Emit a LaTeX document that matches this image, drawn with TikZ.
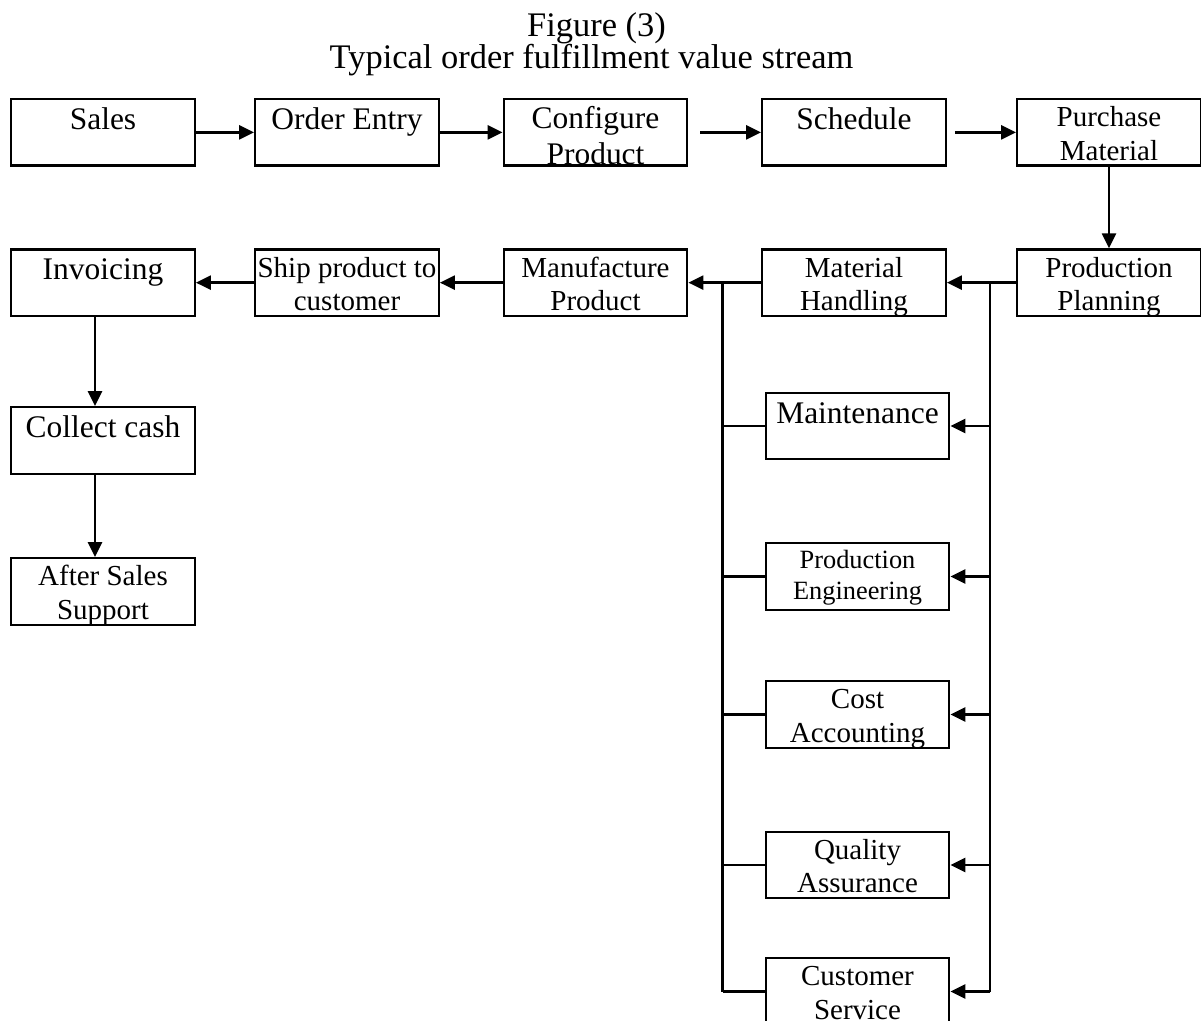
\documentclass[tikz,border=0pt]{standalone}
\usepackage{fontspec}
\setmainfont{Liberation Serif}
\usetikzlibrary{arrows.meta}

\begin{document}
\begin{tikzpicture}[line width=1.3pt,>={Triangle[length=0.3cm,width=0.28cm]},
  blk/.style={draw,inner sep=0pt,minimum width=3.67cm,minimum height=1.33cm,align=center},
  big/.style={blk,font=\fontsize{17.9}{20.5}\selectfont,text height=0.61cm,text depth=0.72cm},
  bigtwo/.style={blk,font=\fontsize{17.9}{20.5}\selectfont,text height=1.31cm,text depth=0.02cm},
  mid/.style={blk,font=\fontsize{16.5}{19}\selectfont,text height=1.22cm,text depth=0.11cm},
  sml/.style={blk,font=\fontsize{15}{17.6}\selectfont,text height=1.13cm,text depth=0.20cm},
  flow/.style={->,line width=1.5pt}]
\useasboundingbox (0,0) rectangle (24.02,-20.4);
% ---------- title ----------
\node[anchor=base,font=\fontsize{19.6}{23}\selectfont] (fig) at (11.93,-0.72) {Figure (3)};
\node[anchor=base,font=\fontsize{19.6}{23}\selectfont] (caption) at (11.83,-1.37) {Typical order fulfillment value stream};
% ---------- top row ----------
\node[big]    (sales)  at (2.06,-2.647)  {Sales};
\node[big]    (entry)  at (6.94,-2.647)  {Order Entry};
\node[bigtwo] (config) at (11.91,-2.647) {Configure\\Product};
\node[big]    (sched)  at (17.08,-2.647) {Schedule};
\node[mid]    (purch)  at (22.18,-2.647) {Purchase\\Material};
% ---------- second row ----------
\node[mid] (plan)    at (22.18,-5.653) {Production\\Planning};
\node[mid] (handl)   at (17.08,-5.653) {Material\\Handling};
\node[mid] (manuf)   at (11.91,-5.653) {Manufacture\\Product};
\node[mid] (ship)    at (6.94,-5.653)  {Ship product to\\customer};
\node[big] (invoice) at (2.06,-5.653)  {Invoicing};
% ---------- left column ----------
\node[big] (cash)  at (2.06,-8.81)  {Collect cash};
\node[mid] (after) at (2.06,-11.83) {After Sales\\Support};
% ---------- support functions ----------
\node[big] (maint) at (17.15,-8.52)  {Maintenance};
\node[sml] (eng)   at (17.15,-11.53) {Production\\Engineering};
\node[mid] (cost)  at (17.15,-14.29) {Cost\\Accounting};
\node[mid] (qual)  at (17.15,-17.30) {Quality\\Assurance};
\node[mid] (cust)  at (17.15,-19.83) {Customer\\Service};
% ---------- flow ----------
\draw[flow] (sales) -- (entry);
\draw[flow] (entry) -- (config);
\draw[flow,shorten <=0.24cm] (config) -- (sched);
\draw[flow,shorten <=0.16cm] (sched) -- (purch);
\draw[flow] (purch) -- (plan);
\draw[flow] (plan) -- (handl);
\draw[flow] (handl) -- (manuf);
\draw[flow] (manuf) -- (ship);
\draw[flow] (ship) -- (invoice);
\draw[flow] ([xshift=-0.16cm]invoice.south) -- ([xshift=-0.16cm]cash.north);
\draw[flow] ([xshift=-0.16cm]cash.south) -- ([xshift=-0.16cm]after.north);
% buses
\coordinate (rtop) at (19.80,-5.653);
\coordinate (ltop) at (14.45,-5.653);
\draw (rtop) -- (rtop |- cust.east);
\draw (ltop) -- (ltop |- cust.west);
\foreach \b in {maint,eng,cost,qual,cust}{
  \draw[flow] (rtop |- \b.east) -- (\b.east);
  \draw (ltop |- \b.west) -- (\b.west);}
\end{tikzpicture}
\end{document}
